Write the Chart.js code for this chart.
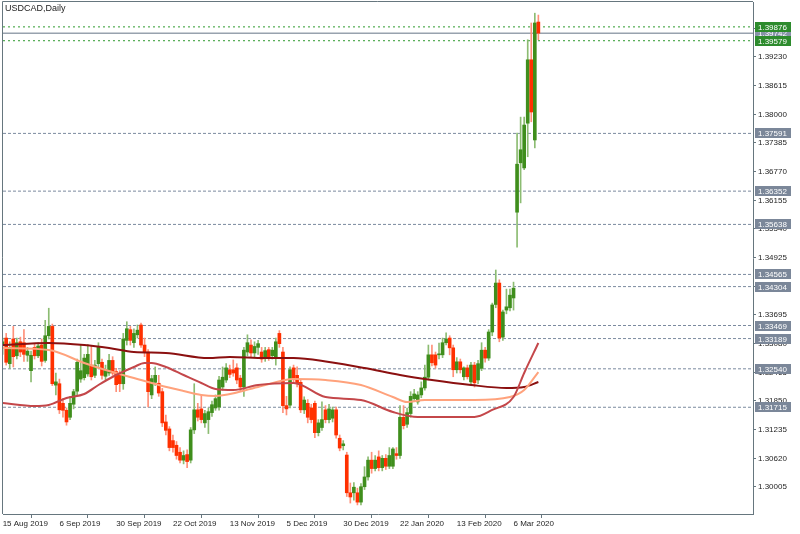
<!DOCTYPE html>
<html lang="en">
<head>
    <meta charset="UTF-8">
    <title>USDCAD, Daily</title>
    <script src="https://cdn.jsdelivr.net/npm/chart.js"></script>
    <style>
        body { margin: 0; background: #ffffff; }
        #wrap { width: 800px; height: 534px; }
    </style>
</head>
<body>
<div id="wrap"><canvas id="chart" width="800" height="534"></canvas></div>
<script>
    // daily bars, bar 0 = 15 Aug 2019
    const dateLabels = ['15 Aug 2019', '6 Sep 2019', '30 Sep 2019', '22 Oct 2019', '13 Nov 2019',
        '5 Dec 2019', '30 Dec 2019', '22 Jan 2020', '13 Feb 2020', '6 Mar 2020'];
    const dateIdx = [0, 16, 32, 48, 64, 80, 96, 112, 128, 144];

    const opens = [
        1.3305, 1.3320, 1.3265, 1.3318, 1.3282, 1.3312, 1.3310, 1.3283, 1.3250, 1.3300,
        1.3282, 1.3305, 1.3272, 1.3325, 1.3345, 1.3219, 1.3222, 1.3180, 1.3165, 1.3150,
        1.3178, 1.3206, 1.3232, 1.3235, 1.3243, 1.3262, 1.3240, 1.3265, 1.3268, 1.3238,
        1.3245, 1.3272, 1.3248, 1.3240, 1.3222, 1.3315, 1.3338, 1.3310, 1.3327, 1.3348,
        1.3305, 1.3290, 1.3198, 1.3225, 1.3223, 1.3205, 1.3140, 1.3125, 1.3100, 1.3090,
        1.3075, 1.3058, 1.3070, 1.3058, 1.3123, 1.3166, 1.3168, 1.3138, 1.3145, 1.3160,
        1.3170, 1.3172, 1.3215, 1.3230, 1.3252, 1.3252, 1.3256, 1.3234, 1.3215, 1.3290,
        1.3305, 1.3288, 1.3300, 1.3290, 1.3278, 1.3295, 1.3282, 1.3280, 1.3330, 1.3290,
        1.3175, 1.3176, 1.3256, 1.3240, 1.3225, 1.3166, 1.3180, 1.3170, 1.3180, 1.3117,
        1.3128, 1.3166, 1.3145, 1.3148, 1.3166, 1.3105, 1.3089, 1.3069, 1.2988, 1.2988,
        1.2988, 1.2968, 1.3001, 1.3022, 1.3058, 1.3040, 1.3065, 1.3042, 1.3062, 1.3045,
        1.3045, 1.3072, 1.3068, 1.3150, 1.3135, 1.3158, 1.3190, 1.3183, 1.3198, 1.3213,
        1.3236, 1.3284, 1.3284, 1.3284, 1.3284, 1.3310, 1.3320, 1.3299, 1.3252, 1.3269,
        1.3237, 1.3256, 1.3226, 1.3262, 1.3230, 1.3255, 1.3294, 1.3277, 1.3333, 1.3392,
        1.3438, 1.3322, 1.3380, 1.3385, 1.3406, 1.3590, 1.3696, 1.3685, 1.3781, 1.3917,
        1.3745, 1.3998
    ];
    const highs = [
        1.3320, 1.3330, 1.3312, 1.3345, 1.3320, 1.3322, 1.3338, 1.3300, 1.3292, 1.3308,
        1.3310, 1.3318, 1.3358, 1.3384, 1.3350, 1.3245, 1.3232, 1.3190, 1.3170, 1.3195,
        1.3210, 1.3275, 1.3305, 1.3285, 1.3306, 1.3303, 1.3272, 1.3310, 1.3275, 1.3262,
        1.3285, 1.3280, 1.3255, 1.3250, 1.3330, 1.3355, 1.3345, 1.3340, 1.3348, 1.3352,
        1.3320, 1.3295, 1.3240, 1.3258, 1.3240, 1.3212, 1.3155, 1.3130, 1.3112, 1.3098,
        1.3085, 1.3078, 1.3080, 1.3128, 1.3222, 1.3180, 1.3198, 1.3165, 1.3170, 1.3185,
        1.3198, 1.3238, 1.3258, 1.3265, 1.3262, 1.3273, 1.3265, 1.3240, 1.3300, 1.3327,
        1.3316, 1.3312, 1.3315, 1.3300, 1.3300, 1.3300, 1.3300, 1.3320, 1.3336, 1.3300,
        1.3195, 1.3258, 1.3262, 1.3258, 1.3230, 1.3194, 1.3188, 1.3178, 1.3185, 1.3145,
        1.3183, 1.3175, 1.3178, 1.3172, 1.3172, 1.3112, 1.3100, 1.3075, 1.3009, 1.3010,
        1.2998, 1.3008, 1.3044, 1.3065, 1.3075, 1.3068, 1.3078, 1.3068, 1.3070, 1.3085,
        1.3085, 1.3085, 1.3175, 1.3175, 1.3170, 1.3205, 1.3210, 1.3205, 1.3226, 1.3262,
        1.3305, 1.3305, 1.3290, 1.3309, 1.3320, 1.3331, 1.3325, 1.3305, 1.3278, 1.3275,
        1.3258, 1.3262, 1.3268, 1.3268, 1.3272, 1.3310, 1.3300, 1.3338, 1.3395, 1.3466,
        1.3445, 1.3380, 1.3425, 1.3425, 1.3440, 1.3760, 1.3794, 1.3794, 1.3960, 1.3996,
        1.4017, 1.4013
    ];
    const lows = [
        1.3285, 1.3262, 1.3255, 1.3258, 1.3275, 1.3280, 1.3270, 1.3270, 1.3226, 1.3275,
        1.3278, 1.3260, 1.3268, 1.3318, 1.3218, 1.3198, 1.3158, 1.3150, 1.3133, 1.3145,
        1.3168, 1.3198, 1.3225, 1.3230, 1.3238, 1.3230, 1.3235, 1.3255, 1.3232, 1.3230,
        1.3240, 1.3240, 1.3205, 1.3205, 1.3210, 1.3305, 1.3305, 1.3300, 1.3320, 1.3300,
        1.3280, 1.3172, 1.3190, 1.3218, 1.3195, 1.3130, 1.3112, 1.3078, 1.3075, 1.3060,
        1.3052, 1.3050, 1.3042, 1.3052, 1.3115, 1.3142, 1.3138, 1.3128, 1.3115, 1.3152,
        1.3165, 1.3165, 1.3208, 1.3225, 1.3235, 1.3238, 1.3222, 1.3205, 1.3195, 1.3282,
        1.3280, 1.3280, 1.3285, 1.3268, 1.3270, 1.3272, 1.3275, 1.3262, 1.3300, 1.3160,
        1.3155, 1.3170, 1.3225, 1.3215, 1.3160, 1.3158, 1.3138, 1.3138, 1.3106, 1.3110,
        1.3122, 1.3138, 1.3138, 1.3140, 1.3105, 1.3078, 1.3080, 1.2980, 1.2966, 1.2972,
        1.2962, 1.2962, 1.2995, 1.3015, 1.3030, 1.3035, 1.3035, 1.3035, 1.3038, 1.3040,
        1.3040, 1.3060, 1.3062, 1.3125, 1.3128, 1.3150, 1.3185, 1.3178, 1.3192, 1.3208,
        1.3230, 1.3260, 1.3255, 1.3275, 1.3278, 1.3305, 1.3284, 1.3237, 1.3245, 1.3245,
        1.3230, 1.3232, 1.3222, 1.3215, 1.3222, 1.3250, 1.3268, 1.3272, 1.3325, 1.3385,
        1.3312, 1.3315, 1.3372, 1.3378, 1.3380, 1.3515, 1.3610, 1.3681, 1.3709, 1.3784,
        1.3728, 1.3960
    ];
    const closes = [
        1.3312, 1.3268, 1.3300, 1.3280, 1.3310, 1.3290, 1.3285, 1.3292, 1.3283, 1.3282,
        1.3303, 1.3270, 1.3325, 1.3345, 1.3222, 1.3226, 1.3166, 1.3165, 1.3140, 1.3180,
        1.3205, 1.3268, 1.3250, 1.3277, 1.3285, 1.3237, 1.3262, 1.3300, 1.3240, 1.3252,
        1.3272, 1.3245, 1.3220, 1.3222, 1.3318, 1.3340, 1.3315, 1.3330, 1.3337, 1.3305,
        1.3290, 1.3205, 1.3233, 1.3240, 1.3202, 1.3138, 1.3122, 1.3085, 1.3085, 1.3068,
        1.3058, 1.3068, 1.3055, 1.3123, 1.3166, 1.3150, 1.3145, 1.3158, 1.3162, 1.3177,
        1.3190, 1.3230, 1.3236, 1.3256, 1.3242, 1.3245, 1.3230, 1.3215, 1.3294, 1.3310,
        1.3288, 1.3302, 1.3308, 1.3275, 1.3293, 1.3280, 1.3294, 1.3312, 1.3308, 1.3175,
        1.3168, 1.3252, 1.3234, 1.3222, 1.3166, 1.3187, 1.3150, 1.3145, 1.3117, 1.3138,
        1.3145, 1.3145, 1.3168, 1.3166, 1.3112, 1.3084, 1.3093, 1.2988, 1.2979, 1.3000,
        1.2968, 1.3001, 1.3022, 1.3058, 1.3040, 1.3058, 1.3042, 1.3062, 1.3045, 1.3068,
        1.3082, 1.3068, 1.3150, 1.3132, 1.3160, 1.3195, 1.3200, 1.3198, 1.3213, 1.3236,
        1.3284, 1.3267, 1.3262, 1.3286, 1.3310, 1.3318, 1.3299, 1.3252, 1.3269, 1.3252,
        1.3256, 1.3237, 1.3262, 1.3224, 1.3265, 1.3294, 1.3277, 1.3333, 1.3391, 1.3438,
        1.3320, 1.3376, 1.3387, 1.3412, 1.3427, 1.3693, 1.3724, 1.3777, 1.3917, 1.3805,
        1.3996, 1.39742
    ];

    // moving averages (bar index / price)
    const maSlowIdx = [0, 13, 23, 30, 37, 46, 58, 64, 74, 82, 92, 102, 112, 121, 132, 142, 147, 151];
    const maSlow = [1.33051, 1.33094, 1.33051, 1.32987, 1.32901, 1.32880, 1.32772, 1.32794, 1.32772,
        1.32772, 1.32686, 1.32557, 1.32407, 1.32300, 1.32193, 1.32128, 1.32150, 1.32257];
    const maMidIdx = [0, 13, 23, 29, 37, 44, 51, 56, 60, 72, 82, 91, 101, 110, 114, 119, 133, 143, 147, 151];
    const maMid = [1.32987, 1.32944, 1.32665, 1.32515, 1.32343, 1.32193, 1.32064, 1.31979, 1.31957, 1.32150,
        1.32322, 1.32300, 1.32193, 1.31935, 1.31828, 1.31871, 1.31871, 1.31935, 1.32085, 1.32471];
    const maFastIdx = [0, 9, 13, 18, 23, 27, 32, 37, 40, 42, 46, 51, 56, 60, 65, 72, 82, 91, 101, 110,
        117, 125, 133, 138, 144, 147, 151];
    const maFast = [1.31807, 1.31742, 1.31764, 1.31914, 1.32000, 1.32193, 1.32407, 1.32579, 1.32665, 1.32665,
        1.32579, 1.32407, 1.32236, 1.32107, 1.32086, 1.32193, 1.32236, 1.31935, 1.31871, 1.31614,
        1.31506, 1.31506, 1.31506, 1.31657, 1.31935, 1.32450, 1.33094];

    // horizontal price levels
    const greenLevels = [1.39876, 1.39579];
    const grayLevels = [1.37591, 1.36352, 1.35638, 1.34565, 1.34304, 1.33469, 1.33189, 1.32540, 1.31715];

    const yTicks = [1.30005, 1.30620, 1.31235, 1.31850, 1.32465, 1.33080, 1.33695, 1.34310, 1.34925,
        1.35540, 1.36155, 1.36770, 1.37385, 1.38000, 1.38615, 1.39230, 1.39845];

    const X_MIN = 0.1, X_MAX = 211.5;
    const AXIS = '#66767e';
    const FONT = 'Liberation Sans, Arial, sans-serif';
    const lastPrice = closes[closes.length - 1];

    const up = closes.map((c, i) => c >= opens[i]);
    const wickData = lows.map((l, i) => ({ x: i, y: [l, highs[i]] }));
    const bodyData = opens.map((o, i) => ({ x: i, y: [o, closes[i]] }));

    function levelSet(v, color, dash, width) {
        return {
            type: 'line',
            data: [{ x: X_MIN, y: v }, { x: X_MAX, y: v }],
            borderColor: color,
            borderWidth: width,
            borderDash: dash,
            pointRadius: 0,
            order: 10
        };
    }

    function maSet(idx, vals, color) {
        return {
            type: 'line',
            data: idx.map((x, k) => ({ x: x, y: vals[k] })),
            borderColor: color,
            borderWidth: 2,
            pointRadius: 0,
            cubicInterpolationMode: 'monotone',
            order: 0
        };
    }

    const datasets = [];
    grayLevels.forEach(v => datasets.push(levelSet(v, '#7b8a9f', [3, 2], 1)));
    greenLevels.forEach(v => datasets.push(levelSet(v, '#2e9a2e', [2, 3], 1)));
    datasets.push(levelSet(lastPrice, '#98a2ae', [], 1.5));
    datasets.push({
        type: 'bar', data: wickData, barThickness: 1, grouped: false, order: 3,
        backgroundColor: up.map(u => u ? '#8cbc72' : '#ff9079')
    });
    datasets.push({
        type: 'bar', data: bodyData, barThickness: 3, grouped: false, order: 2, minBarLength: 1,
        backgroundColor: up.map(u => u ? '#3f8e1c' : '#ff3000')
    });
    datasets.push(maSet(maFastIdx, maFast, '#c4474a'));
    datasets.push(maSet(maMidIdx, maMid, '#ffa27c'));
    datasets.push(maSet(maSlowIdx, maSlow, '#8b1010'));

    // frame, title and price boxes on the right axis
    const decorPlugin = {
        id: 'decor',
        afterDraw(chart) {
            const ctx = chart.ctx;
            const a = chart.chartArea;
            const ys = chart.scales.y;
            ctx.save();
            ctx.strokeStyle = AXIS;
            ctx.lineWidth = 1;
            ctx.beginPath();
            ctx.moveTo(a.left - 0.5, a.bottom);
            ctx.lineTo(a.left - 0.5, a.top - 0.5);
            ctx.lineTo(a.right, a.top - 0.5);
            ctx.stroke();

            ctx.fillStyle = '#222';
            ctx.font = '9px ' + FONT;
            ctx.textBaseline = 'alphabetic';
            ctx.textAlign = 'left';
            ctx.fillText('USDCAD,Daily', a.left + 2, 11);

            ctx.font = '8px ' + FONT;
            ctx.textBaseline = 'middle';
            const box = (v, fill) => {
                const y = Math.round(ys.getPixelForValue(v));
                ctx.fillStyle = fill;
                ctx.fillRect(a.right + 2, y - 5, 36, 10);
                ctx.fillStyle = '#ffffff';
                ctx.fillText(v.toFixed(5), a.right + 5, y + 0.5);
            };
            box(lastPrice, '#8794a8');
            grayLevels.forEach(v => box(v, '#7b8799'));
            greenLevels.forEach(v => box(v, '#2d8b2d'));
            ctx.restore();
        }
    };

    new Chart(document.getElementById('chart'), {
        type: 'bar',
        data: { datasets: datasets },
        options: {
            responsive: false,
            animation: false,
            devicePixelRatio: 1,
            layout: { padding: { left: 3, top: 2, right: 0, bottom: 0 } },
            plugins: { legend: { display: false }, tooltip: { enabled: false } },
            scales: {
                x: {
                    type: 'linear',
                    min: X_MIN,
                    max: X_MAX,
                    offset: false,
                    afterBuildTicks: s => { s.ticks = dateIdx.map(v => ({ value: v })); },
                    afterFit: s => { s.height = 20; s.paddingLeft = 0; s.paddingRight = 0; },
                    ticks: {
                        autoSkip: false, maxRotation: 0, align: 'start', padding: 1,
                        color: '#1e1e1e', font: { family: FONT, size: 8 },
                        callback: v => dateLabels[dateIdx.indexOf(v)]
                    },
                    grid: { drawOnChartArea: false, tickLength: 4, color: AXIS },
                    border: { color: AXIS, width: 1 }
                },
                y: {
                    type: 'linear',
                    position: 'right',
                    min: 1.29425,
                    max: 1.40410,
                    afterBuildTicks: s => { s.ticks = yTicks.map(v => ({ value: v })); },
                    afterFit: s => { s.width = 47; s.paddingTop = 0; s.paddingBottom = 0; },
                    ticks: {
                        padding: 2, color: '#1e1e1e', font: { family: FONT, size: 8 },
                        callback: v => v.toFixed(5)
                    },
                    grid: { drawOnChartArea: false, tickLength: 3, color: AXIS },
                    border: { color: AXIS, width: 1 }
                }
            }
        },
        plugins: [decorPlugin]
    });
</script>
</body>
</html>
